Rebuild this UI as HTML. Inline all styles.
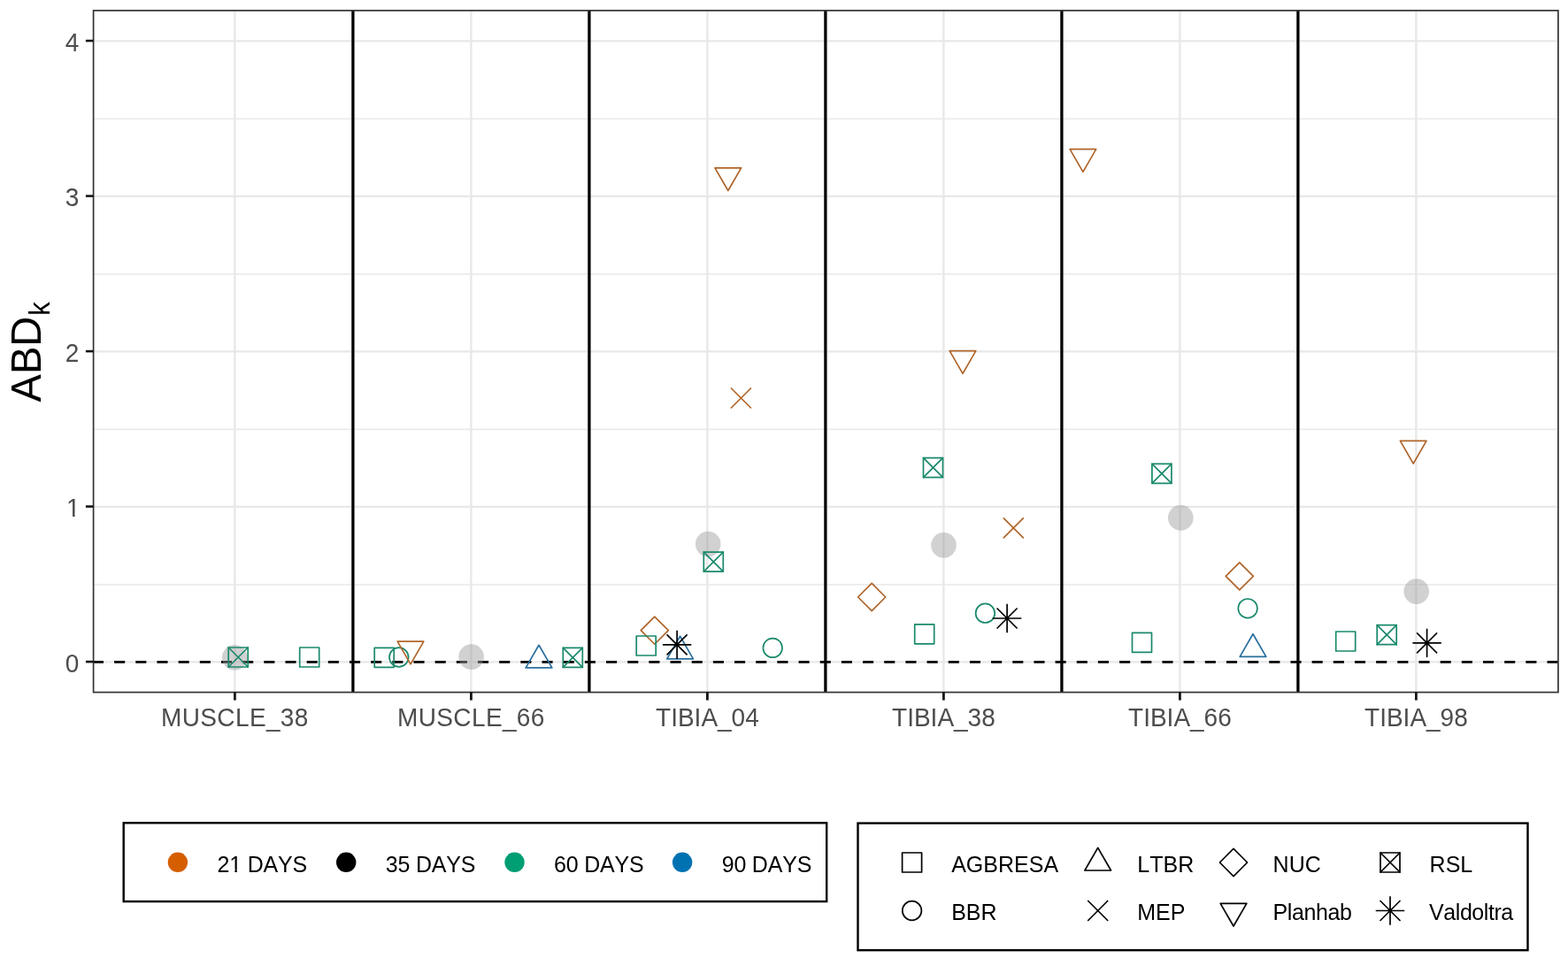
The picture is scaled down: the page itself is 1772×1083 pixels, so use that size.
<!DOCTYPE html><html><head><meta charset="utf-8"><title>ABDk plot</title><style>
html,body{margin:0;padding:0;background:#fff;}body{width:1772px;height:1083px;overflow:hidden;}
svg{display:block;font-family:"Liberation Sans",Arial,Helvetica,sans-serif;}text{font-kerning:none;font-feature-settings:"kern" 0;}
</style></head><body>
<svg width="1772" height="1083" viewBox="0 0 1772 1083">
<rect x="0" y="0" width="1772" height="1083" fill="#fff"/>
<defs><clipPath id="pc"><rect x="105.6" y="11.9" width="1655.3" height="770.7"/></clipPath></defs>
<g clip-path="url(#pc)">
<line x1="105.6" x2="1760.9" y1="660.85" y2="660.85" stroke="#EBEBEB" stroke-width="1.7"/>
<line x1="105.6" x2="1760.9" y1="485.35" y2="485.35" stroke="#EBEBEB" stroke-width="1.7"/>
<line x1="105.6" x2="1760.9" y1="309.85" y2="309.85" stroke="#EBEBEB" stroke-width="1.7"/>
<line x1="105.6" x2="1760.9" y1="134.35" y2="134.35" stroke="#EBEBEB" stroke-width="1.7"/>
<line x1="105.6" x2="1760.9" y1="748.4" y2="748.4" stroke="#E8E8E8" stroke-width="2.4"/>
<line x1="105.6" x2="1760.9" y1="572.9" y2="572.9" stroke="#E8E8E8" stroke-width="2.4"/>
<line x1="105.6" x2="1760.9" y1="397.4" y2="397.4" stroke="#E8E8E8" stroke-width="2.4"/>
<line x1="105.6" x2="1760.9" y1="221.9" y2="221.9" stroke="#E8E8E8" stroke-width="2.4"/>
<line x1="105.6" x2="1760.9" y1="46.4" y2="46.4" stroke="#E8E8E8" stroke-width="2.4"/>
<line x1="265.4" x2="265.4" y1="11.9" y2="782.6" stroke="#E8E8E8" stroke-width="2.4"/>
<line x1="532.4" x2="532.4" y1="11.9" y2="782.6" stroke="#E8E8E8" stroke-width="2.4"/>
<line x1="799.4" x2="799.4" y1="11.9" y2="782.6" stroke="#E8E8E8" stroke-width="2.4"/>
<line x1="1066.4" x2="1066.4" y1="11.9" y2="782.6" stroke="#E8E8E8" stroke-width="2.4"/>
<line x1="1333.4" x2="1333.4" y1="11.9" y2="782.6" stroke="#E8E8E8" stroke-width="2.4"/>
<line x1="1600.4" x2="1600.4" y1="11.9" y2="782.6" stroke="#E8E8E8" stroke-width="2.4"/>
<line x1="398.9" x2="398.9" y1="11.9" y2="782.6" stroke="#000" stroke-width="3.3"/>
<line x1="665.9" x2="665.9" y1="11.9" y2="782.6" stroke="#000" stroke-width="3.3"/>
<line x1="932.9" x2="932.9" y1="11.9" y2="782.6" stroke="#000" stroke-width="3.3"/>
<line x1="1199.9" x2="1199.9" y1="11.9" y2="782.6" stroke="#000" stroke-width="3.3"/>
<line x1="1466.9" x2="1466.9" y1="11.9" y2="782.6" stroke="#000" stroke-width="3.3"/>
<line x1="104.93" x2="1760.9" y1="748.4" y2="748.4" stroke="#000" stroke-width="2.9" stroke-dasharray="12.1 12.07"/>
<circle cx="265.2" cy="743.3" r="14.3" fill="#999" fill-opacity="0.45"/>
<circle cx="532.6" cy="742.6" r="14.3" fill="#999" fill-opacity="0.45"/>
<circle cx="800.2" cy="615.1" r="14.3" fill="#999" fill-opacity="0.45"/>
<circle cx="1066.5" cy="616.3" r="14.3" fill="#999" fill-opacity="0.45"/>
<circle cx="1334.3" cy="585.4" r="14.3" fill="#999" fill-opacity="0.45"/>
<circle cx="1600.7" cy="668.6" r="14.3" fill="#999" fill-opacity="0.45"/>
<rect x="258.2" y="732" width="22" height="22" fill="none" stroke="#1A896C" stroke-width="1.7" stroke-linecap="round" stroke-linejoin="round"/><path d="M258.2 732L280.2 754M258.2 754L280.2 732" fill="none" stroke="#1A896C" stroke-width="1.7" stroke-linecap="round" stroke-linejoin="round"/>
<rect x="338.7" y="732" width="22" height="22" fill="none" stroke="#1A896C" stroke-width="1.7" stroke-linecap="round" stroke-linejoin="round"/>
<rect x="423.2" y="732.3" width="22" height="22" fill="none" stroke="#1A896C" stroke-width="1.7" stroke-linecap="round" stroke-linejoin="round"/>
<circle cx="450.8" cy="743" r="10.8" fill="none" stroke="#1A896C" stroke-width="1.7" stroke-linecap="round" stroke-linejoin="round"/>
<polygon points="464,750.81 478.81,725.15 449.19,725.15" fill="none" stroke="#B0652A" stroke-width="1.7" stroke-linecap="round" stroke-linejoin="round"/>
<polygon points="609,729.29 623.81,754.95 594.19,754.95" fill="none" stroke="#2A6E9E" stroke-width="1.7" stroke-linecap="round" stroke-linejoin="round"/>
<rect x="636.3" y="732.4" width="22" height="22" fill="none" stroke="#1A896C" stroke-width="1.7" stroke-linecap="round" stroke-linejoin="round"/><path d="M636.3 732.4L658.3 754.4M636.3 754.4L658.3 732.4" fill="none" stroke="#1A896C" stroke-width="1.7" stroke-linecap="round" stroke-linejoin="round"/>
<rect x="795.3" y="624.1" width="22" height="22" fill="none" stroke="#1A896C" stroke-width="1.7" stroke-linecap="round" stroke-linejoin="round"/><path d="M795.3 624.1L817.3 646.1M795.3 646.1L817.3 624.1" fill="none" stroke="#1A896C" stroke-width="1.7" stroke-linecap="round" stroke-linejoin="round"/>
<polygon points="739.8,697.14 755.36,712.7 739.8,728.26 724.24,712.7" fill="none" stroke="#B0652A" stroke-width="1.7" stroke-linecap="round" stroke-linejoin="round"/>
<rect x="719.2" y="719" width="22" height="22" fill="none" stroke="#1A896C" stroke-width="1.7" stroke-linecap="round" stroke-linejoin="round"/>
<polygon points="768.6,719.29 783.41,744.95 753.79,744.95" fill="none" stroke="#2A6E9E" stroke-width="1.7" stroke-linecap="round" stroke-linejoin="round"/>
<path d="M754.1 717.8L776.1 739.8M754.1 739.8L776.1 717.8M749.54 728.8L780.66 728.8M765.1 713.24L765.1 744.36" fill="none" stroke="#000" stroke-width="1.7" stroke-linecap="round" stroke-linejoin="round"/>
<circle cx="873.2" cy="732.4" r="10.8" fill="none" stroke="#1A896C" stroke-width="1.7" stroke-linecap="round" stroke-linejoin="round"/>
<polygon points="822.8,215.51 837.61,189.85 807.99,189.85" fill="none" stroke="#B0652A" stroke-width="1.7" stroke-linecap="round" stroke-linejoin="round"/>
<path d="M826.4 439L848.4 461M826.4 461L848.4 439" fill="none" stroke="#B0652A" stroke-width="1.7" stroke-linecap="round" stroke-linejoin="round"/>
<polygon points="1088,422.31 1102.81,396.65 1073.19,396.65" fill="none" stroke="#B0652A" stroke-width="1.7" stroke-linecap="round" stroke-linejoin="round"/>
<rect x="1043.5" y="517.6" width="22" height="22" fill="none" stroke="#1A896C" stroke-width="1.7" stroke-linecap="round" stroke-linejoin="round"/><path d="M1043.5 517.6L1065.5 539.6M1043.5 539.6L1065.5 517.6" fill="none" stroke="#1A896C" stroke-width="1.7" stroke-linecap="round" stroke-linejoin="round"/>
<path d="M1134.3 585.9L1156.3 607.9M1134.3 607.9L1156.3 585.9" fill="none" stroke="#B0652A" stroke-width="1.7" stroke-linecap="round" stroke-linejoin="round"/>
<polygon points="985.2,659.44 1000.76,675 985.2,690.56 969.64,675" fill="none" stroke="#B0652A" stroke-width="1.7" stroke-linecap="round" stroke-linejoin="round"/>
<rect x="1033.7" y="705.8" width="22" height="22" fill="none" stroke="#1A896C" stroke-width="1.7" stroke-linecap="round" stroke-linejoin="round"/>
<circle cx="1113.4" cy="693.2" r="10.8" fill="none" stroke="#1A896C" stroke-width="1.7" stroke-linecap="round" stroke-linejoin="round"/>
<path d="M1127.1 688L1149.1 710M1127.1 710L1149.1 688M1122.54 699L1153.66 699M1138.1 683.44L1138.1 714.56" fill="none" stroke="#000" stroke-width="1.7" stroke-linecap="round" stroke-linejoin="round"/>
<polygon points="1223.9,194.31 1238.71,168.65 1209.09,168.65" fill="none" stroke="#B0652A" stroke-width="1.7" stroke-linecap="round" stroke-linejoin="round"/>
<rect x="1301.9" y="524.3" width="22" height="22" fill="none" stroke="#1A896C" stroke-width="1.7" stroke-linecap="round" stroke-linejoin="round"/><path d="M1301.9 524.3L1323.9 546.3M1301.9 546.3L1323.9 524.3" fill="none" stroke="#1A896C" stroke-width="1.7" stroke-linecap="round" stroke-linejoin="round"/>
<polygon points="1400.8,635.84 1416.36,651.4 1400.8,666.96 1385.24,651.4" fill="none" stroke="#B0652A" stroke-width="1.7" stroke-linecap="round" stroke-linejoin="round"/>
<circle cx="1410.1" cy="687.8" r="10.8" fill="none" stroke="#1A896C" stroke-width="1.7" stroke-linecap="round" stroke-linejoin="round"/>
<rect x="1279.5" y="715.4" width="22" height="22" fill="none" stroke="#1A896C" stroke-width="1.7" stroke-linecap="round" stroke-linejoin="round"/>
<polygon points="1416,716.79 1430.81,742.45 1401.19,742.45" fill="none" stroke="#2A6E9E" stroke-width="1.7" stroke-linecap="round" stroke-linejoin="round"/>
<polygon points="1597.2,524.11 1612.01,498.45 1582.39,498.45" fill="none" stroke="#B0652A" stroke-width="1.7" stroke-linecap="round" stroke-linejoin="round"/>
<rect x="1509.7" y="714" width="22" height="22" fill="none" stroke="#1A896C" stroke-width="1.7" stroke-linecap="round" stroke-linejoin="round"/>
<rect x="1556.2" y="706.7" width="22" height="22" fill="none" stroke="#1A896C" stroke-width="1.7" stroke-linecap="round" stroke-linejoin="round"/><path d="M1556.2 706.7L1578.2 728.7M1556.2 728.7L1578.2 706.7" fill="none" stroke="#1A896C" stroke-width="1.7" stroke-linecap="round" stroke-linejoin="round"/>
<path d="M1601.6 715.8L1623.6 737.8M1601.6 737.8L1623.6 715.8M1597.04 726.8L1628.16 726.8M1612.6 711.24L1612.6 742.36" fill="none" stroke="#000" stroke-width="1.7" stroke-linecap="round" stroke-linejoin="round"/>
</g>
<rect x="105.6" y="11.9" width="1655.3" height="770.7" fill="none" stroke="#333" stroke-width="1.7"/>
<line x1="96.9" x2="105.6" y1="748.1" y2="748.1" stroke="#151515" stroke-width="2.6"/>
<text transform="translate(89.3,759.6) scale(1,1.04)" font-size="28" fill="#4D4D4D" text-anchor="end">0</text>
<line x1="96.9" x2="105.6" y1="572.6" y2="572.6" stroke="#151515" stroke-width="2.6"/>
<text transform="translate(90.6,584.1) scale(1,1.04)" font-size="28" fill="#4D4D4D" text-anchor="end">1</text>
<rect x="76.16" y="581.02" width="5.83" height="3.78" fill="#fff"/><rect x="84.62" y="581.02" width="5.61" height="3.78" fill="#fff"/>
<line x1="96.9" x2="105.6" y1="397.1" y2="397.1" stroke="#151515" stroke-width="2.6"/>
<text transform="translate(89.3,408.6) scale(1,1.04)" font-size="28" fill="#4D4D4D" text-anchor="end">2</text>
<line x1="96.9" x2="105.6" y1="221.6" y2="221.6" stroke="#151515" stroke-width="2.6"/>
<text transform="translate(89.3,233.1) scale(1,1.04)" font-size="28" fill="#4D4D4D" text-anchor="end">3</text>
<line x1="96.9" x2="105.6" y1="46.1" y2="46.1" stroke="#151515" stroke-width="2.6"/>
<text transform="translate(89.3,57.6) scale(1,1.04)" font-size="28" fill="#4D4D4D" text-anchor="end">4</text>
<line x1="265.4" x2="265.4" y1="782.6" y2="791.6" stroke="#151515" stroke-width="2.8"/>
<text transform="translate(265.4,820.6) scale(1,1.04)" font-size="28" fill="#4D4D4D" text-anchor="middle" letter-spacing="0.37">MUSCLE_38</text>
<line x1="532.4" x2="532.4" y1="782.6" y2="791.6" stroke="#151515" stroke-width="2.8"/>
<text transform="translate(532.4,820.6) scale(1,1.04)" font-size="28" fill="#4D4D4D" text-anchor="middle" letter-spacing="0.37">MUSCLE_66</text>
<line x1="799.4" x2="799.4" y1="782.6" y2="791.6" stroke="#151515" stroke-width="2.8"/>
<text transform="translate(799.4,820.6) scale(1,1.04)" font-size="28" fill="#4D4D4D" text-anchor="middle">TIBIA_04</text>
<line x1="1066.4" x2="1066.4" y1="782.6" y2="791.6" stroke="#151515" stroke-width="2.8"/>
<text transform="translate(1066.4,820.6) scale(1,1.04)" font-size="28" fill="#4D4D4D" text-anchor="middle">TIBIA_38</text>
<line x1="1333.4" x2="1333.4" y1="782.6" y2="791.6" stroke="#151515" stroke-width="2.8"/>
<text transform="translate(1333.4,820.6) scale(1,1.04)" font-size="28" fill="#4D4D4D" text-anchor="middle">TIBIA_66</text>
<line x1="1600.4" x2="1600.4" y1="782.6" y2="791.6" stroke="#151515" stroke-width="2.8"/>
<text transform="translate(1600.4,820.6) scale(1,1.04)" font-size="28" fill="#4D4D4D" text-anchor="middle">TIBIA_98</text>
<text transform="translate(46.4,454.4) rotate(-90) scale(1,1.03)" font-size="47" fill="#000">ABD</text>
<text transform="translate(56.1,356.7) rotate(-90) scale(1,1.06)" font-size="31" fill="#000">k</text>
<rect x="139.7" y="930.3" width="794.5" height="88.8" fill="none" stroke="#000" stroke-width="2.4"/>
<circle cx="200.9" cy="974.8" r="11.2" fill="#D55E00"/>
<text transform="translate(245.5,985.6) scale(1,1.04)" font-size="25" fill="#000" letter-spacing="-0.2">21 DAYS</text>
<rect x="260.11" y="982.76" width="5.3" height="3.54" fill="#fff"/><rect x="267.78" y="982.76" width="5.11" height="3.54" fill="#fff"/>
<circle cx="391.2" cy="974.8" r="11.2" fill="#000000"/>
<text transform="translate(435.8,985.6) scale(1,1.04)" font-size="25" fill="#000" letter-spacing="-0.2">35 DAYS</text>
<circle cx="581.5" cy="974.8" r="11.2" fill="#009E73"/>
<text transform="translate(626.1,985.6) scale(1,1.04)" font-size="25" fill="#000" letter-spacing="-0.2">60 DAYS</text>
<circle cx="771.1" cy="974.8" r="11.2" fill="#0072B2"/>
<text transform="translate(815.7,985.6) scale(1,1.04)" font-size="25" fill="#000" letter-spacing="-0.2">90 DAYS</text>
<rect x="969.5" y="930.6" width="757" height="143.6" fill="none" stroke="#000" stroke-width="2.4"/>
<rect x="1019.6" y="964" width="22" height="22" fill="none" stroke="#000" stroke-width="1.7" stroke-linecap="round" stroke-linejoin="round"/>
<text transform="translate(1075.2,985.7) scale(1,1.04)" font-size="25" fill="#000">AGBRESA</text>
<circle cx="1030.6" cy="1029.5" r="10.8" fill="none" stroke="#000" stroke-width="1.7" stroke-linecap="round" stroke-linejoin="round"/>
<text transform="translate(1075.2,1039.6) scale(1,1.04)" font-size="25" fill="#000">BBR</text>
<polygon points="1240.7,958.34 1255.51,984 1225.89,984" fill="none" stroke="#000" stroke-width="1.7" stroke-linecap="round" stroke-linejoin="round"/>
<text transform="translate(1285.3,985.7) scale(1,1.04)" font-size="25" fill="#000">LTBR</text>
<path d="M1229.7 1018.5L1251.7 1040.5M1229.7 1040.5L1251.7 1018.5" fill="none" stroke="#000" stroke-width="1.7" stroke-linecap="round" stroke-linejoin="round"/>
<text transform="translate(1285.3,1039.6) scale(1,1.04)" font-size="25" fill="#000">MEP</text>
<polygon points="1394,959.44 1409.56,975 1394,990.56 1378.44,975" fill="none" stroke="#000" stroke-width="1.7" stroke-linecap="round" stroke-linejoin="round"/>
<text transform="translate(1438.6,985.7) scale(1,1.04)" font-size="25" fill="#000">NUC</text>
<polygon points="1394,1047.01 1408.81,1021.35 1379.19,1021.35" fill="none" stroke="#000" stroke-width="1.7" stroke-linecap="round" stroke-linejoin="round"/>
<text transform="translate(1438.6,1039.6) scale(1,1.04)" font-size="25" fill="#000" letter-spacing="-0.4">Planhab</text>
<rect x="1560" y="964" width="22" height="22" fill="none" stroke="#000" stroke-width="1.7" stroke-linecap="round" stroke-linejoin="round"/><path d="M1560 964L1582 986M1560 986L1582 964" fill="none" stroke="#000" stroke-width="1.7" stroke-linecap="round" stroke-linejoin="round"/>
<text transform="translate(1615.6,985.7) scale(1,1.04)" font-size="25" fill="#000">RSL</text>
<path d="M1560 1018.5L1582 1040.5M1560 1040.5L1582 1018.5M1555.44 1029.5L1586.56 1029.5M1571 1013.94L1571 1045.06" fill="none" stroke="#000" stroke-width="1.7" stroke-linecap="round" stroke-linejoin="round"/>
<text transform="translate(1615.1,1039.6) scale(1,1.04)" font-size="25" fill="#000" letter-spacing="-0.45">Valdoltra</text>
</svg></body></html>
